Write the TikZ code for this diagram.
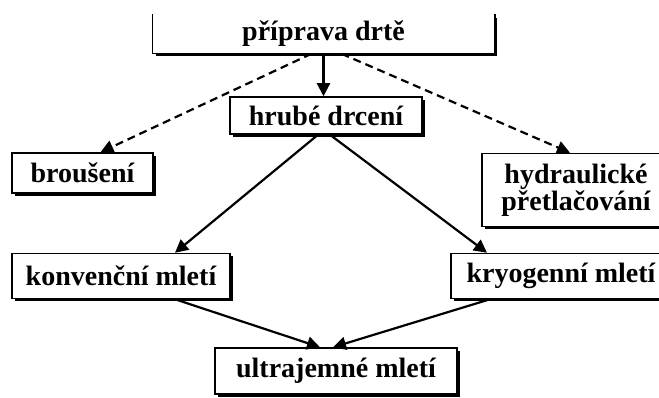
\documentclass[tikz,border=0pt]{standalone}
\usepackage{fontspec}
\setmainfont{Liberation Serif}
\usetikzlibrary{arrows.meta,shadows}
\begin{document}
\begin{tikzpicture}[x=1pt,y=-1pt,
  box/.style={fill=white,draw=black,line width=1.5pt,inner sep=0pt,
    font=\fontsize{28}{25}\selectfont\bfseries,align=center,
    drop shadow={shadow xshift=3pt,shadow yshift=-3pt,fill=black,opacity=1}},
  openbox/.style={box,draw=none},
  arr/.style={line width=2.2pt,-{Triangle[length=13pt,width=13pt]}},
  darr/.style={arr,dash pattern=on 8pt off 5pt}]
\useasboundingbox (0,0) rectangle (659,398);
\node[openbox,minimum width=341pt,minimum height=38pt] (A) at (323.5,34) {příprava drtě};
\draw[line width=1.5pt] (A.north west) -- (A.south west) -- (A.south east) -- (A.north east);
\node[box,minimum width=192pt,minimum height=37pt] (B) at (326,115.5) {hrubé drcení};
\node[box,minimum width=141pt,minimum height=40pt] (C) at (82.5,173) {broušení};
\node[box,minimum width=188pt,minimum height=73pt] (D) at (576,190) {hydraulické\\přetlačování};
\node[box,minimum width=218pt,minimum height=45pt] (E) at (121,276) {konvenční mletí};
\node[box,minimum width=220pt,minimum height=45pt] (F) at (561,276) {kryogenní mletí};
\node[box,minimum width=242pt,minimum height=46pt] (G) at (336,371) {ultrajemné mletí};
\draw[arr] (A.south) -- (A.south |- B.north);
\draw[darr] ([xshift=-12pt]A.south) -- ([xshift=18pt]C.north);
\draw[darr] ([xshift=18pt]A.south) -- ([xshift=-6pt]D.north);
\draw[arr] ([xshift=-8pt]B.south) -- ([xshift=54pt]E.north);
\draw[arr] ([xshift=4pt]B.south) -- ([xshift=-74pt]F.north);
\draw[arr] ([xshift=54pt]E.south) -- ([xshift=-16pt]G.north);
\draw[arr] ([xshift=-71pt]F.south) -- ([xshift=-3pt]G.north);
\end{tikzpicture}
\end{document}
